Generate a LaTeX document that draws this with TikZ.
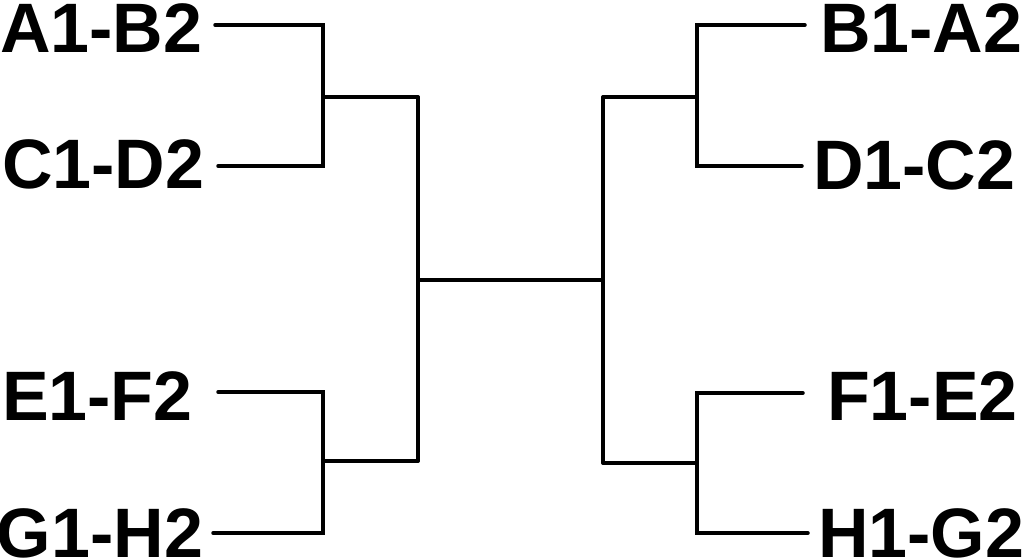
\documentclass[tikz,border=0pt]{standalone}
\usepackage{fontspec}
\setmainfont{Liberation Sans}
\begin{document}
\begin{tikzpicture}[x=1pt,y=-1pt,
  lbl/.style={inner sep=0pt,outer sep=0pt,anchor=base west,font=\bfseries\fontsize{70}{84}\selectfont},
  wire/.style={line width=3.5pt,line join=miter,line cap=round,black}]
\useasboundingbox (0,0) rectangle (1024,559);
% labels
\node[lbl] (ab) at (0,53) {A1-B2};
\node[lbl] (cd) at (2,188) {C1-D2};
\node[lbl] (ef) at (2,420) {E1-F2};
\node[lbl] (gh) at (-3,557) {G1-H2};
\node[lbl] (ba) at (820,53) {B1-A2};
\node[lbl] (dc) at (813,189) {D1-C2};
\node[lbl] (fe) at (827,420) {F1-E2};
\node[lbl] (hg) at (818,557) {H1-G2};
% line ends
\coordinate (pab) at (215,25);
\coordinate (pcd) at (218,166);
\coordinate (pef) at (218,392);
\coordinate (pgh) at (213,533);
\coordinate (pba) at (805,25);
\coordinate (pdc) at (802,166);
\coordinate (pfe) at (803,393);
\coordinate (phg) at (808,533);
% junctions
\coordinate (jl1) at (323,97);
\coordinate (jl2) at (323,461);
\coordinate (jr1) at (697,97);
\coordinate (jr2) at (697,463);
\coordinate (cl) at (418,280);
\coordinate (cr) at (603,280);
% left
\draw[wire] (pab) -- (jl1 |- pab) -- (jl1 |- pcd) -- (pcd);
\draw[wire] (jl1) -- (cl |- jl1);
\draw[wire] (pef) -- (jl2 |- pef) -- (jl2 |- pgh) -- (pgh);
\draw[wire] (jl2) -- (cl |- jl2);
\draw[wire] (cl |- jl1) -- (cl |- jl2);
% centre
\draw[wire] (cl) -- (cr);
% right
\draw[wire] (pba) -- (jr1 |- pba) -- (jr1 |- pdc) -- (pdc);
\draw[wire] (jr1) -- (cr |- jr1);
\draw[wire] (pfe) -- (jr2 |- pfe) -- (jr2 |- phg) -- (phg);
\draw[wire] (jr2) -- (cr |- jr2);
\draw[wire] (cr |- jr1) -- (cr |- jr2);
\end{tikzpicture}
\end{document}
